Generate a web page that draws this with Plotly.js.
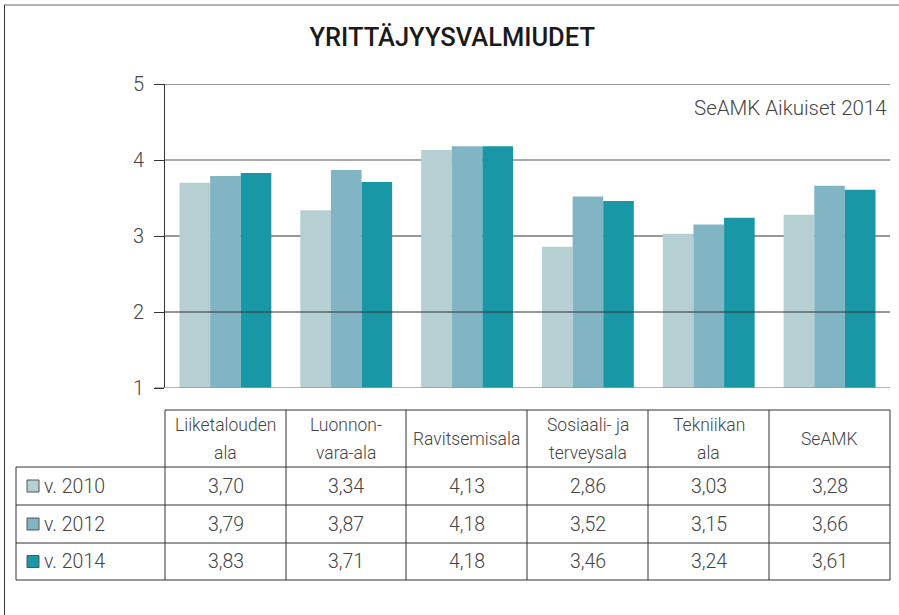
<!DOCTYPE html>
<html><head><meta charset="utf-8">
<script src="https://cdn.plot.ly/plotly-3.0.1.min.js"></script>
<style>body{margin:0;padding:0;background:#fff}#c{width:899px;height:615px}</style>
</head><body><div id="c"></div>
<script>
const categories = ["Liiketalouden<br>ala", "Luonnon-<br>vara-ala", "Ravitsemisala", "Sosiaali- ja<br>terveysala", "Tekniikan<br>ala", "SeAMK"];
const seriesNames = ["v. 2010", "v. 2012", "v. 2014"];
const v2010 = [3.70, 3.34, 4.13, 2.86, 3.03, 3.28];
const v2012 = [3.79, 3.87, 4.18, 3.52, 3.15, 3.66];
const v2014 = [3.83, 3.71, 4.18, 3.46, 3.24, 3.61];
const colors = ["#b5cfd3", "#82b5c4", "#1a97a6"];
const yTicks = [1, 2, 3, 4, 5];

const W = 899, H = 615;
const px = x => x / W, py = y => 1 - y / H;
const FONT = "Roboto, 'DejaVu Sans', sans-serif";
const TXT = "#444";

const series = [v2010, v2012, v2014];
const traces = series.map((vals, i) => ({
  type: "bar", x: categories.map((c, j) => j), y: vals, name: seriesNames[i],
  marker: {color: colors[i], line: {width: 0}}, hoverinfo: "y"
}));

const shapes = [];
const annotations = [];
shapes.push({type:"line", xref:"paper", yref:"paper", x0:px(4), x1:px(899), y0:py(5), y1:py(5), line:{color:"#9a9a9a", width:1.5}});
shapes.push({type:"line", xref:"paper", yref:"paper", x0:px(4.5), x1:px(4.5), y0:py(5), y1:py(615), line:{color:"#333", width:1}});
shapes.push({type:"line", xref:"paper", yref:"y", x0:px(165), x1:px(890), y0:5, y1:5, line:{color:"#333", width:1}, layer:"below"});
shapes.push({type:"line", xref:"paper", yref:"y", x0:px(165), x1:px(890), y0:4, y1:4, line:{color:"#8c8c8c", width:1.5}, layer:"below"});
shapes.push({type:"line", xref:"paper", yref:"y", x0:px(165), x1:px(890), y0:3, y1:3, line:{color:"#333", width:1}, layer:"below"});
shapes.push({type:"line", xref:"paper", yref:"y", x0:px(165), x1:px(890), y0:2, y1:2, line:{color:"#333", width:1}, layer:"above"});
shapes.push({type:"line", xref:"paper", yref:"y", x0:px(155), x1:px(890), y0:1, y1:1, line:{color:"#9a9a9a", width:1.5}, layer:"above"});

const colX = [165, 286, 406, 527, 648, 769, 890];
const rowY = [410, 467, 505, 543, 580];
const lc = {color:"#333", width:1};
shapes.push({type:"line", xref:"paper", yref:"paper", x0:px(165), x1:px(890), y0:py(410), y1:py(410), line:lc});
for (let k = 0; k < colX.length; k++) {
  shapes.push({type:"line", xref:"paper", yref:"paper", x0:px(colX[k]), x1:px(colX[k]), y0:py(410), y1:py(580), line:lc});
}
shapes.push({type:"line", xref:"paper", yref:"paper", x0:px(16), x1:px(16), y0:py(467), y1:py(580), line:lc});
for (let r = 1; r < rowY.length; r++) {
  shapes.push({type:"line", xref:"paper", yref:"paper", x0:px(16), x1:px(890), y0:py(rowY[r]), y1:py(rowY[r]), line:lc});
}
const hf = {family:FONT, size:17.5, color:TXT, weight:300};
categories.forEach((c, j) => {
  const lines = c.split("<br>");
  const ys = lines.length === 1 ? [439] : [425, 453];
  lines.forEach((t, k) => {
    annotations.push({xref:"paper", yref:"paper", x:px((colX[j]+colX[j+1])/2), y:py(ys[k]), text:t, showarrow:false,
      xanchor:"center", yanchor:"middle", font:hf});
  });
});
const vf = {family:FONT, size:19.5, color:TXT, weight:300};
series.forEach((vals, i) => {
  const yc = (rowY[i+1] + rowY[i+2]) / 2;
  shapes.push({type:"rect", xref:"paper", yref:"paper", x0:px(27), x1:px(39), y0:py(yc+6), y1:py(yc-6),
    fillcolor:colors[i], line:{color:"#555", width:1}});
  annotations.push({xref:"paper", yref:"paper", x:px(42), y:py(yc), text:seriesNames[i], showarrow:false,
    xanchor:"left", yanchor:"middle", font:vf});
  vals.forEach((v, j) => {
    annotations.push({xref:"paper", yref:"paper", x:px((colX[j]+colX[j+1])/2), y:py(yc), text:v.toFixed(2).replace(".", ","),
      showarrow:false, xanchor:"center", yanchor:"middle", font:vf});
  });
});
annotations.push({xref:"paper", yref:"paper", x:px(889), y:py(108), text:"SeAMK Aikuiset 2014", showarrow:false,
  xanchor:"right", yanchor:"middle", font:{family:FONT, size:20.5, color:TXT, weight:300}});

const layout = {
  width: W, height: H,
  margin: {l:0, r:0, t:0, b:0},
  paper_bgcolor: "#fff", plot_bgcolor: "rgba(0,0,0,0)",
  title: {text: "YRITTÄJYYSVALMIUDET", x: 0.503, xanchor: "center", y: py(37), yanchor: "middle",
    font: {family: FONT, size: 25.5, color: "#1a1a1a", weight: 500}},
  showlegend: false,
  barmode: "group", bargap: 0.24, bargroupgap: 0,
  xaxis: {domain: [px(165), px(890)], range: [-0.5, 5.5], showticklabels: false, ticks: "", showgrid: false,
    zeroline: false, showline: false, fixedrange: true},
  yaxis: {domain: [py(388), py(84)], range: [1, 5], tickvals: yTicks, ticks: "outside", ticklen: 10,
    tickcolor: "#333", tickwidth: 1, showgrid: false, zeroline: false, showline: true, linecolor: "#333",
    linewidth: 1, tickfont: {family: FONT, size: 20, color: TXT, weight: 300}, ticklabelstandoff: 6, fixedrange: true},
  shapes: shapes, annotations: annotations
};
Plotly.newPlot("c", traces, layout, {displayModeBar: false, staticPlot: true});
</script></body></html>
